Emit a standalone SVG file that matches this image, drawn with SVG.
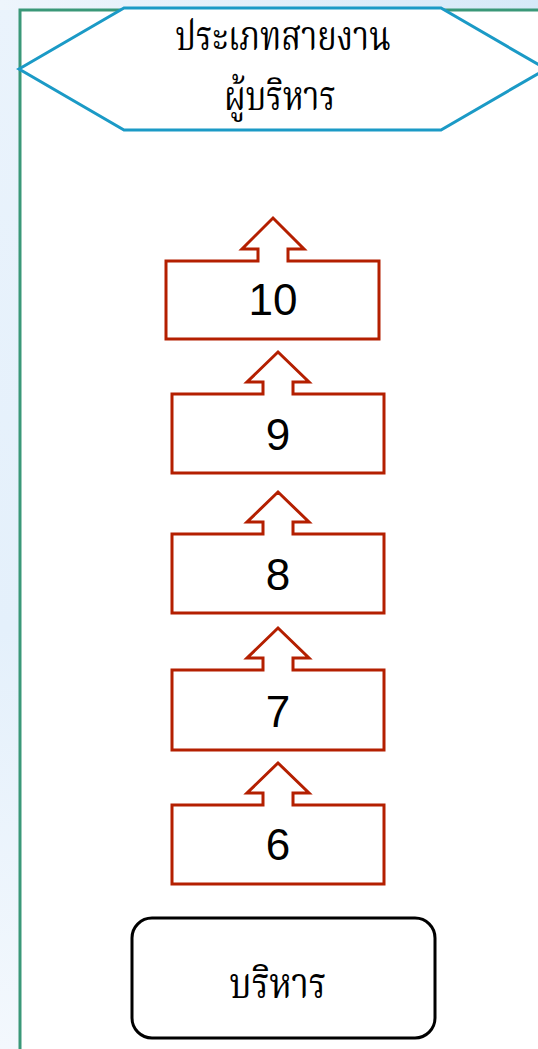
<svg xmlns="http://www.w3.org/2000/svg" width="538" height="1049" viewBox="0 0 538 1049">
<defs>
<linearGradient id="bg" x1="0" y1="0" x2="0" y2="1">
<stop offset="0" stop-color="#eaf3fc"/>
<stop offset="0.6" stop-color="#e4f0fb"/>
<stop offset="1" stop-color="#f3f8fd"/>
</linearGradient>
<linearGradient id="bgt" x1="0" y1="0" x2="1" y2="0">
<stop offset="0" stop-color="#eef5fc"/>
<stop offset="1" stop-color="#d6e9f8"/>
</linearGradient>
</defs>
<style>
.step{fill:#ffffff;stroke:#b41f00;stroke-width:3;stroke-linejoin:miter}
.num{font-family:"Liberation Sans Narrow","Liberation Sans",sans-serif;font-size:44px;fill:#000;text-anchor:middle}
.th{font-family:"Noto Serif Thai","Liberation Serif",serif;font-size:34px;fill:#000;text-anchor:middle}
</style>
<rect x="0" y="0" width="538" height="1049" fill="url(#bg)"/>
<rect x="0" y="0" width="538" height="10" fill="url(#bgt)"/>
<rect x="20" y="10" width="530" height="1050" fill="#ffffff"/>
<path d="M20,1049 V10 H538" fill="none" stroke="#3a9878" stroke-width="3"/>
<g id="header">
<polygon points="19,69 124,8 441,8 546,69 441,130 124,130" fill="#ffffff" stroke="#1b9ac6" stroke-width="3"/>
<text class="th" transform="translate(283,50) scale(0.96,1.2)">ประเภทสายงาน</text>
<text class="th" transform="translate(280,110) scale(0.97,1.18)">ผู้บริหาร</text>
</g>
<g id="connectors"></g>
<g id="step10">
<path class="step" d="M166,261 H258 V249 H242 L273,218 L304,249 H288 V261 H379 V339 H166 Z"/>
<text class="num" x="273" y="315">10</text>
</g>
<g id="step9">
<path class="step" d="M172,394 H263 V382 H247 L278,352 L309,382 H293 V394 H384 V473 H172 Z"/>
<text class="num" x="278" y="450">9</text>
</g>
<g id="step8">
<path class="step" d="M172,534 H263 V522 H247 L278,492 L309,522 H293 V534 H384 V613 H172 Z"/>
<text class="num" x="278" y="590">8</text>
</g>
<g id="step7">
<path class="step" d="M172,670 H263 V658 H247 L278,628 L309,658 H293 V670 H384 V750 H172 Z"/>
<text class="num" x="278" y="727">7</text>
</g>
<g id="step6">
<path class="step" d="M172,805 H263 V793 H247 L278,763 L309,793 H293 V805 H384 V884 H172 Z"/>
<text class="num" x="278" y="860">6</text>
</g>
<g id="base">
<rect x="132" y="918" width="303" height="120" rx="20" ry="20" fill="#ffffff" stroke="#000" stroke-width="3"/>
<text class="th" transform="translate(278,998) scale(1.04,1.28)">บริหาร</text>
</g>
</svg>
